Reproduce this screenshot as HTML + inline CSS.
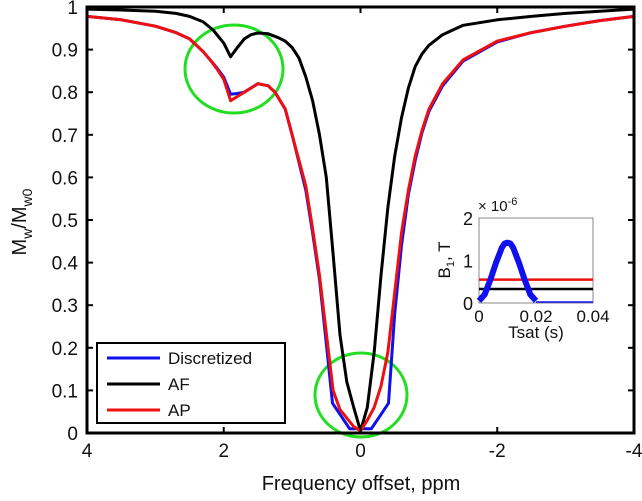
<!DOCTYPE html>
<html><head><meta charset="utf-8"><style>
body{margin:0;background:#fff;width:642px;height:496px;overflow:hidden}
svg text{font-family:"Liberation Sans",Arial,sans-serif;fill:#111}
</style></head><body>
<svg id="chart" width="642" height="496"></svg>
<script>
const afX=[4,3.5,3,2.7,2.5,2.3,2.15,2.0,1.9,1.8,1.7,1.6,1.5,1.35,1.2,1.1,1.0,0.9,0.8,0.7,0.6,0.5,0.4,0.3,0.2,0.1,0,-0.1,-0.2,-0.3,-0.4,-0.5,-0.6,-0.7,-0.8,-0.9,-1.0,-1.2,-1.5,-2,-2.5,-3,-4];
const afY=[0.995,0.993,0.99,0.985,0.978,0.965,0.945,0.915,0.883,0.905,0.925,0.935,0.939,0.937,0.928,0.92,0.905,0.88,0.836,0.78,0.70,0.60,0.42,0.23,0.12,0.06,0.005,0.06,0.19,0.37,0.53,0.65,0.74,0.81,0.86,0.89,0.91,0.935,0.957,0.97,0.978,0.985,0.995];
const apX=[4,3.5,3,2.7,2.5,2.3,2.2,2.1,2.0,1.9,1.8,1.7,1.5,1.35,1.25,1.1,1.0,0.9,0.8,0.7,0.6,0.5,0.4,0.3,0.2,0.1,0,-0.1,-0.2,-0.3,-0.4,-0.5,-0.6,-0.7,-0.8,-0.9,-1.0,-1.2,-1.5,-2,-2.5,-3,-3.5,-4];
const apY=[0.978,0.97,0.955,0.94,0.925,0.895,0.876,0.855,0.83,0.78,0.79,0.80,0.82,0.815,0.80,0.76,0.70,0.64,0.58,0.48,0.37,0.235,0.10,0.055,0.035,0.015,0.005,0.03,0.06,0.11,0.19,0.33,0.47,0.57,0.65,0.71,0.76,0.82,0.876,0.92,0.94,0.955,0.968,0.978];
const diX=[4,3.5,3,2.7,2.5,2.3,2.2,2.1,2.0,1.9,1.8,1.7,1.5,1.35,1.25,1.1,1.0,0.9,0.8,0.7,0.6,0.5,0.41,0.16,0,-0.16,-0.41,-0.5,-0.6,-0.7,-0.8,-0.9,-1.0,-1.2,-1.5,-2,-2.5,-3,-3.5,-4];
const diY=[0.978,0.97,0.955,0.94,0.925,0.895,0.876,0.857,0.835,0.795,0.797,0.80,0.82,0.815,0.80,0.76,0.70,0.635,0.57,0.47,0.36,0.21,0.07,0.01,0.01,0.01,0.07,0.28,0.44,0.56,0.64,0.705,0.755,0.815,0.873,0.918,0.94,0.955,0.968,0.978];
const xTicks=[4,2,0,-2,-4];
const yTicks=[0,0.1,0.2,0.3,0.4,0.5,0.6,0.7,0.8,0.9,1];
const insT=[0,0.002,0.004,0.006,0.008,0.009,0.010,0.011,0.012,0.014,0.016,0.018,0.02];
const insB=[0.05,0.2,0.55,0.95,1.3,1.4,1.42,1.4,1.3,0.95,0.55,0.2,0.05];
const insAP=[0.55];
const insAF=[0.33];
const insXTicks=[0,0.02,0.04];
const insYTicks=[0,1,2];

const NS="http://www.w3.org/2000/svg";
const svg=document.getElementById('chart');
function el(t,a,p){const e=document.createElementNS(NS,t);for(const k in a)e.setAttribute(k,a[k]);(p||svg).appendChild(e);return e;}
const L=87,R=634,T=7,B=433;
const sx=v=>L+(4-v)/8*(R-L);
const sy=v=>B-v*(B-T);

let c1=el('ellipse',{cx:234,cy:69,rx:49,ry:44,fill:'none',stroke:'#22dd22','stroke-width':3});


let c2=el('ellipse',{cx:361,cy:395,rx:46,ry:42,fill:'none',stroke:'#22dd22','stroke-width':3});



function line(xs,ys,col,name){
  const d=xs.map((x,i)=>(i?'L':'M')+sx(x).toFixed(1)+','+sy(ys[i]).toFixed(1)).join('');
  const p=el('path',{d:d,fill:'none',stroke:col,'stroke-width':3,'stroke-linejoin':'round'});
  
  
}
line(diX,diY,'#1010ee','series-discretized');
line(afX,afY,'#000','series-af');
line(apX,apY,'#ee1010','series-ap');

const box=el('rect',{x:L,y:T,width:R-L,height:B-T,fill:'none',stroke:'#000','stroke-width':3});


xTicks.forEach(v=>{
  el('line',{x1:sx(v),x2:sx(v),y1:B,y2:B-6,stroke:'#000','stroke-width':2});
  el('line',{x1:sx(v),x2:sx(v),y1:T,y2:T+6,stroke:'#000','stroke-width':2});
  const t=el('text',{x:sx(v),y:B+24,'text-anchor':'middle','font-size':19});
  t.textContent=v;
  
  
});
yTicks.forEach(v=>{
  el('line',{x1:L,x2:L+6,y1:sy(v),y2:sy(v),stroke:'#000','stroke-width':2});
  el('line',{x1:R,x2:R-6,y1:sy(v),y2:sy(v),stroke:'#000','stroke-width':2});
  const t=el('text',{x:L-9,y:sy(v)+7,'text-anchor':'end','font-size':19});
  t.textContent=v;
  
  
});
const xt=el('text',{x:361,y:490,'text-anchor':'middle','font-size':20});
xt.textContent='Frequency offset, ppm';


const yt=el('text',{x:0,y:0,'text-anchor':'middle','font-size':20,transform:'translate(26,222) rotate(-90)'});
yt.innerHTML='M<tspan font-size="14" dy="6">w</tspan><tspan dy="-6">/M</tspan><tspan font-size="14" dy="6">w0</tspan>';



const lg=el('g',{});


el('rect',{x:97,y:343,width:188,height:80,fill:'#fff',stroke:'#000','stroke-width':2},lg);
[['Discretized','#1010ee',358],['AF','#000',384],['AP','#ee1010',410]].forEach(([n,c,y])=>{
  const g=el('g',{},lg);
  
  
  el('line',{x1:107,x2:160,y1:y,y2:y,stroke:c,'stroke-width':3},g);
  const t=el('text',{x:168,y:y+6,'font-size':17},g);t.textContent=n;
});

const iL=479,iR=593,iT=218,iB=303;
const ix=v=>iL+v/0.04*(iR-iL);
const iy=v=>iB-v/2*(iB-iT);
const ig=el('g',{});


el('rect',{x:iL,y:iT,width:iR-iL,height:iB-iT,fill:'#fff',stroke:'#888','stroke-width':1},ig);
const ap=el('line',{x1:iL,x2:iR,y1:iy(insAP[0]),y2:iy(insAP[0]),stroke:'#ee1010','stroke-width':2.5},ig);


const af=el('line',{x1:iL,x2:iR,y1:iy(insAF[0]),y2:iy(insAF[0]),stroke:'#000','stroke-width':2.5},ig);


const bd=insT.map((t,i)=>(i?'L':'M')+ix(t).toFixed(1)+','+iy(insB[i]).toFixed(1)).join('');
const bp=el('path',{d:bd,fill:'none',stroke:'#1010ee','stroke-width':6,'stroke-linejoin':'round'},ig);


el('line',{x1:ix(insT[insT.length-1]),x2:iR,y1:iB-1,y2:iB-1,stroke:'#1010ee','stroke-width':1.5},ig);
insXTicks.forEach(v=>{
  const t=el('text',{x:ix(v),y:iB+19,'text-anchor':'middle','font-size':17},ig);t.textContent=v;
  
  
});
insYTicks.forEach(v=>{
  const t=el('text',{x:iL-6,y:iy(v)+7,'text-anchor':'end','font-size':18},ig);t.textContent=v;
  
  
});
const sc=el('text',{x:478,y:211,'font-size':15},ig);
sc.innerHTML='× 10<tspan font-size="11" dy="-6">-6</tspan>';
const itx=el('text',{x:536,y:338,'text-anchor':'middle','font-size':17},ig);
itx.textContent='Tsat (s)';


const ity=el('text',{x:0,y:0,'text-anchor':'middle','font-size':17,transform:'translate(450,260) rotate(-90)'},ig);
ity.innerHTML='B<tspan font-size="11" dy="4">1</tspan><tspan dy="-4">, T</tspan>';


</script>
</body></html>
